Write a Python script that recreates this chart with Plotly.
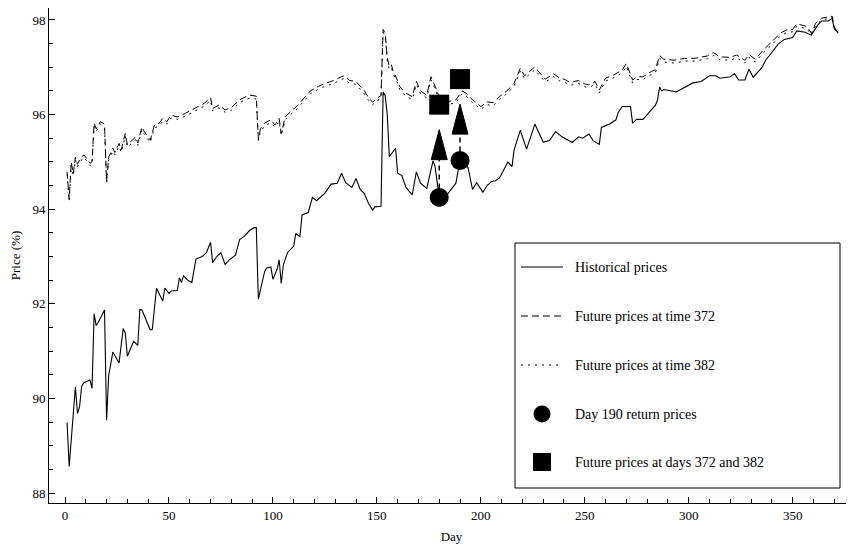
import plotly.graph_objects as go

# ---------------- data ----------------
hist_days = [1, 2, 5, 6, 7, 8, 9, 12, 13, 14, 15, 16, 19, 20, 21, 23, 26, 28, 29, 30,
             33, 35, 36, 37, 41, 42, 44, 47, 48, 50, 51, 54, 55, 56, 57, 59, 61, 63, 66, 68,
             70, 71, 73, 75, 77, 79, 82, 84, 86, 89, 91, 92, 93, 96, 97, 99, 100, 102, 103, 104,
             105, 107, 110, 111, 112, 113, 114, 117, 119, 121, 125, 128, 131, 133, 135, 138, 140, 142, 144, 146,
             148, 149, 152, 153, 154, 155, 156, 158, 159, 160, 162, 164, 167, 169, 171, 174, 177, 178, 180, 184,
             188, 190, 192, 194, 196, 198, 201, 203, 205, 207, 209, 211, 213, 215, 216, 219, 222, 226, 230, 233,
             236, 239, 244, 247, 249, 252, 254, 257, 258, 262, 265, 266, 268, 272, 273, 275, 278, 282, 284, 285,
             286, 287, 288, 294, 302, 306, 310, 313, 315, 320, 322, 324, 327, 329, 331, 335, 337, 339, 343, 346,
             350, 352, 356, 359, 362, 364, 367, 369, 370, 372]
hist_prices = [89.49, 88.56, 90.24, 89.68, 89.82, 90.25, 90.33, 90.39, 90.21, 91.79, 91.54, 91.61, 91.87, 89.54, 90.48, 90.98, 90.75, 91.48, 91.38, 90.89,
               91.21, 91.12, 91.88, 91.87, 91.45, 91.46, 92.33, 92.06, 92.33, 92.22, 92.27, 92.28, 92.55, 92.45, 92.59, 92.50, 92.45, 92.95, 93.00, 93.08,
               93.30, 92.87, 93.00, 93.08, 92.83, 92.93, 93.03, 93.36, 93.42, 93.56, 93.61, 93.61, 92.10, 92.68, 92.76, 92.78, 92.52, 92.73, 92.93, 92.43,
               92.82, 93.08, 93.22, 93.49, 93.45, 93.42, 93.88, 93.93, 94.25, 94.18, 94.34, 94.53, 94.55, 94.76, 94.56, 94.46, 94.65, 94.42, 94.33, 94.12,
               93.98, 94.05, 94.06, 96.48, 96.40, 96.00, 95.11, 95.24, 95.29, 94.76, 94.71, 94.46, 94.30, 94.79, 94.55, 94.44, 95.02, 94.90, 94.25, 94.32,
               94.55, 95.03, 95.10, 94.85, 94.42, 94.56, 94.36, 94.50, 94.58, 94.60, 94.66, 94.83, 95.00, 94.90, 95.25, 95.67, 95.27, 95.80, 95.42, 95.45,
               95.64, 95.53, 95.41, 95.53, 95.50, 95.59, 95.45, 95.37, 95.73, 95.80, 95.89, 96.04, 96.17, 96.17, 95.82, 95.90, 95.90, 96.10, 96.20, 96.31,
               96.58, 96.50, 96.53, 96.48, 96.67, 96.70, 96.82, 96.82, 96.77, 96.80, 96.87, 96.73, 96.73, 96.96, 96.79, 96.98, 97.15, 97.26, 97.49, 97.59,
               97.63, 97.77, 97.74, 97.68, 97.89, 97.98, 97.98, 98.03, 97.82, 97.72]

fut_days = [1, 2, 3, 4, 5, 6, 7, 9, 11, 12, 13, 14, 15, 17, 19, 20, 21, 22, 23, 24,
            26, 27, 29, 30, 32, 34, 35, 37, 38, 41, 43, 45, 47, 49, 51, 54, 58, 61, 64, 67,
            70, 71, 74, 77, 80, 84, 87, 89, 92, 93, 94, 96, 99, 101, 103, 104, 106, 108, 110, 112,
            114, 116, 118, 122, 125, 128, 132, 134, 137, 140, 142, 144, 146, 148, 150, 152, 153, 154, 155, 156,
            157, 158, 160, 161, 164, 167, 169, 171, 174, 176, 178, 180, 182, 185, 188, 191, 193, 196, 198, 200,
            203, 206, 209, 213, 216, 219, 221, 223, 226, 228, 231, 235, 238, 240, 243, 247, 250, 252, 255, 257,
            260, 264, 268, 270, 271, 273, 275, 278, 282, 284, 286, 288, 293, 298, 303, 309, 312, 315, 320, 323,
            327, 329, 332, 336, 340, 344, 347, 350, 352, 355, 357, 359, 361, 364, 369, 370, 372]
fut372_prices = [94.79, 94.21, 95.00, 94.75, 95.10, 94.95, 95.04, 95.15, 95.04, 94.97, 95.00, 95.82, 95.70, 95.85, 95.80, 94.58, 95.10, 95.20, 95.29, 95.20,
                 95.39, 95.25, 95.60, 95.36, 95.45, 95.53, 95.40, 95.74, 95.65, 95.46, 95.78, 95.80, 95.92, 95.85, 95.99, 95.95, 96.03, 96.10, 96.17, 96.24,
                 96.36, 96.13, 96.20, 96.10, 96.15, 96.31, 96.38, 96.41, 96.39, 95.48, 95.70, 95.82, 95.89, 95.78, 95.92, 95.60, 95.96, 96.04, 96.10, 96.20,
                 96.30, 96.41, 96.50, 96.60, 96.66, 96.70, 96.78, 96.82, 96.72, 96.70, 96.60, 96.50, 96.36, 96.26, 96.35, 96.40, 97.80, 97.72, 97.20, 97.01,
                 97.05, 96.90, 96.72, 96.59, 96.45, 96.38, 96.70, 96.50, 96.41, 96.80, 96.60, 96.38, 96.30, 96.28, 96.31, 96.50, 96.45, 96.31, 96.25, 96.17,
                 96.27, 96.25, 96.38, 96.52, 96.66, 96.98, 96.82, 96.90, 97.01, 96.90, 96.75, 96.86, 96.77, 96.75, 96.68, 96.72, 96.65, 96.63, 96.70, 96.52,
                 96.77, 96.84, 96.94, 97.08, 96.95, 96.73, 96.80, 96.80, 96.91, 96.95, 97.25, 97.17, 97.15, 97.19, 97.19, 97.24, 97.31, 97.22, 97.21, 97.26,
                 97.15, 97.27, 97.17, 97.37, 97.54, 97.72, 97.79, 97.80, 97.92, 97.88, 97.86, 97.72, 97.93, 98.04, 98.08, 97.85, 97.72]
fut382_prices = [94.74, 94.17, 94.93, 94.70, 95.05, 94.90, 94.98, 95.10, 94.99, 94.92, 94.95, 95.76, 95.64, 95.80, 95.74, 94.55, 95.04, 95.15, 95.23, 95.15,
                 95.33, 95.20, 95.55, 95.31, 95.40, 95.47, 95.35, 95.69, 95.60, 95.41, 95.72, 95.75, 95.86, 95.80, 95.93, 95.90, 95.97, 96.04, 96.11, 96.18,
                 96.30, 96.08, 96.14, 96.05, 96.09, 96.25, 96.32, 96.35, 96.33, 95.45, 95.64, 95.76, 95.83, 95.73, 95.86, 95.56, 95.90, 95.98, 96.04, 96.14,
                 96.24, 96.35, 96.44, 96.54, 96.60, 96.64, 96.72, 96.76, 96.66, 96.64, 96.54, 96.44, 96.30, 96.21, 96.29, 96.34, 97.74, 97.66, 97.14, 96.95,
                 96.99, 96.84, 96.66, 96.53, 96.39, 96.32, 96.64, 96.44, 96.35, 96.74, 96.54, 96.32, 96.24, 96.22, 96.25, 96.44, 96.39, 96.25, 96.19, 96.11,
                 96.21, 96.19, 96.32, 96.46, 96.60, 96.92, 96.76, 96.84, 96.95, 96.84, 96.69, 96.80, 96.71, 96.69, 96.62, 96.66, 96.59, 96.57, 96.64, 96.46,
                 96.71, 96.78, 96.88, 97.02, 96.89, 96.67, 96.74, 96.74, 96.85, 96.89, 97.19, 97.11, 97.09, 97.13, 97.13, 97.18, 97.25, 97.16, 97.15, 97.20,
                 97.09, 97.21, 97.11, 97.31, 97.48, 97.66, 97.73, 97.75, 97.87, 97.83, 97.81, 97.68, 97.89, 98.00, 98.05, 97.83, 97.72]

marker_days = [180, 190]
return_prices = [94.25, 95.03]
future_marker_prices = [96.21, 96.75]

x_ticks = [0, 50, 100, 150, 200, 250, 300, 350]
y_ticks = [88, 90, 92, 94, 96, 98]

legend_labels = ["Historical prices", "Future prices at time 372", "Future prices at time 382",
                 "Day 190 return prices", "Future prices at days 372 and 382"]

# ---------------- layout geometry ----------------
# The page body keeps the browser's default 8px margin, so the figure is sized
# to fill the rest of the 854x552 window exactly.
BODY = 8
W, H = 854 - BODY, 552 - BODY
MARGIN = dict(l=41, r=0, t=0, b=49)
X_RANGE = [-7.7, 379.5]
Y_RANGE = [87.789, 98.2535]
FONT = "Liberation Serif, Times New Roman, serif"
PLOT_W = W - MARGIN["l"] - MARGIN["r"]
PLOT_H = H - MARGIN["t"] - MARGIN["b"]

ppd = PLOT_W / (X_RANGE[1] - X_RANGE[0])   # px per day
ppu = PLOT_H / (Y_RANGE[1] - Y_RANGE[0])   # px per price unit


def px_x(px):   # window pixel -> paper x
    return (px - BODY - MARGIN["l"]) / PLOT_W


def px_y(py):   # window pixel -> paper y
    return (H - MARGIN["b"] - (py - BODY)) / PLOT_H


fig = go.Figure()

HIST_LINE = dict(color="black", width=1.1)
L372 = dict(color="black", width=1, dash="7px,4px")
L382 = dict(color="black", width=1, dash="2px,5px")

fig.add_trace(go.Scatter(x=hist_days, y=hist_prices, mode="lines", line=HIST_LINE,
                         name=legend_labels[0], showlegend=False))
fig.add_trace(go.Scatter(x=fut_days, y=fut372_prices, mode="lines", line=L372,
                         name=legend_labels[1], showlegend=False))
fig.add_trace(go.Scatter(x=fut_days, y=fut382_prices, mode="lines", line=L382,
                         name=legend_labels[2], showlegend=False))

# arrows: dashed shaft + filled arrowhead
gap_px, head_len_px, head_half_px = 25, 30, 8
for d, p0, p1 in zip(marker_days, return_prices, future_marker_prices):
    tip = p1 - gap_px / ppu
    base = tip - head_len_px / ppu
    fig.add_trace(go.Scatter(x=[d, d], y=[p0, base], mode="lines",
                             line=dict(color="black", width=1.5, dash="5px,4px"),
                             showlegend=False, hoverinfo="skip"))
    hw = head_half_px / ppd
    fig.add_trace(go.Scatter(x=[d - hw, d, d + hw, d - hw], y=[base, tip, base, base],
                             mode="lines", fill="toself", fillcolor="black",
                             line=dict(color="black", width=1),
                             showlegend=False, hoverinfo="skip"))

fig.add_trace(go.Scatter(x=marker_days, y=return_prices, mode="markers",
                         marker=dict(symbol="circle", size=19, color="black"),
                         name=legend_labels[3], showlegend=False))
fig.add_trace(go.Scatter(x=marker_days, y=future_marker_prices, mode="markers",
                         marker=dict(symbol="square", size=20, color="black"),
                         name=legend_labels[4], showlegend=False))

# ---------------- hand-drawn legend (boxed, wide, spaced rows) ----------------
shapes = [dict(type="rect", xref="paper", yref="paper",
               x0=px_x(515), x1=px_x(840), y0=px_y(488), y1=px_y(243),
               line=dict(color="black", width=1), fillcolor="white", layer="above")]
annotations = []
row_y = [267, 316, 365, 414, 462]
sample_x0, sample_x1, sample_cx, text_x = 521, 563, 542, 573
for lbl, ry, style in zip(legend_labels[:3], row_y[:3], [HIST_LINE, L372, L382]):
    shapes.append(dict(type="line", xref="paper", yref="paper",
                       x0=px_x(sample_x0), x1=px_x(sample_x1), y0=px_y(ry), y1=px_y(ry),
                       line=style, layer="above"))
shapes.append(dict(type="circle", xref="paper", yref="paper", xsizemode="pixel", ysizemode="pixel",
                   xanchor=px_x(sample_cx), yanchor=px_y(row_y[3]), x0=-8.5, x1=8.5, y0=-8.5, y1=8.5,
                   fillcolor="black", line=dict(color="black", width=0), layer="above"))
shapes.append(dict(type="rect", xref="paper", yref="paper", xsizemode="pixel", ysizemode="pixel",
                   xanchor=px_x(sample_cx), yanchor=px_y(row_y[4]), x0=-9, x1=9, y0=-9, y1=9,
                   fillcolor="black", line=dict(color="black", width=0), layer="above"))
for lbl, ry in zip(legend_labels, row_y):
    annotations.append(dict(text=lbl, xref="paper", yref="paper", x=px_x(text_x), y=px_y(ry),
                            xanchor="left", yanchor="middle", showarrow=False,
                            font=dict(family=FONT, size=14, color="black")))

axis_common = dict(showline=True, linecolor="black", linewidth=1, mirror=False,
                   showgrid=False, zeroline=False, ticks="inside", ticklen=6,
                   tickcolor="black", tickwidth=1, automargin=False,
                   tickfont=dict(family=FONT, size=13, color="black"))

fig.update_xaxes(range=X_RANGE, tickvals=x_ticks,
                 minor=dict(dtick=10, tick0=0, ticks="inside", ticklen=4, tickcolor="black", showgrid=False),
                 title=dict(text="Day", font=dict(family=FONT, size=13, color="black"), standoff=10),
                 **axis_common)
fig.update_yaxes(range=Y_RANGE, tickvals=y_ticks,
                 minor=dict(dtick=0.5, tick0=88, ticks="inside", ticklen=4, tickcolor="black", showgrid=False),
                 title=dict(text="Price (%)", font=dict(family=FONT, size=13, color="black"), standoff=9),
                 **axis_common)

fig.update_layout(
    width=W, height=H, margin=MARGIN,
    plot_bgcolor="white", paper_bgcolor="white",
    font=dict(family=FONT, size=13, color="black"),
    showlegend=False, shapes=shapes, annotations=annotations,
)

fig.write_html("out.html")
